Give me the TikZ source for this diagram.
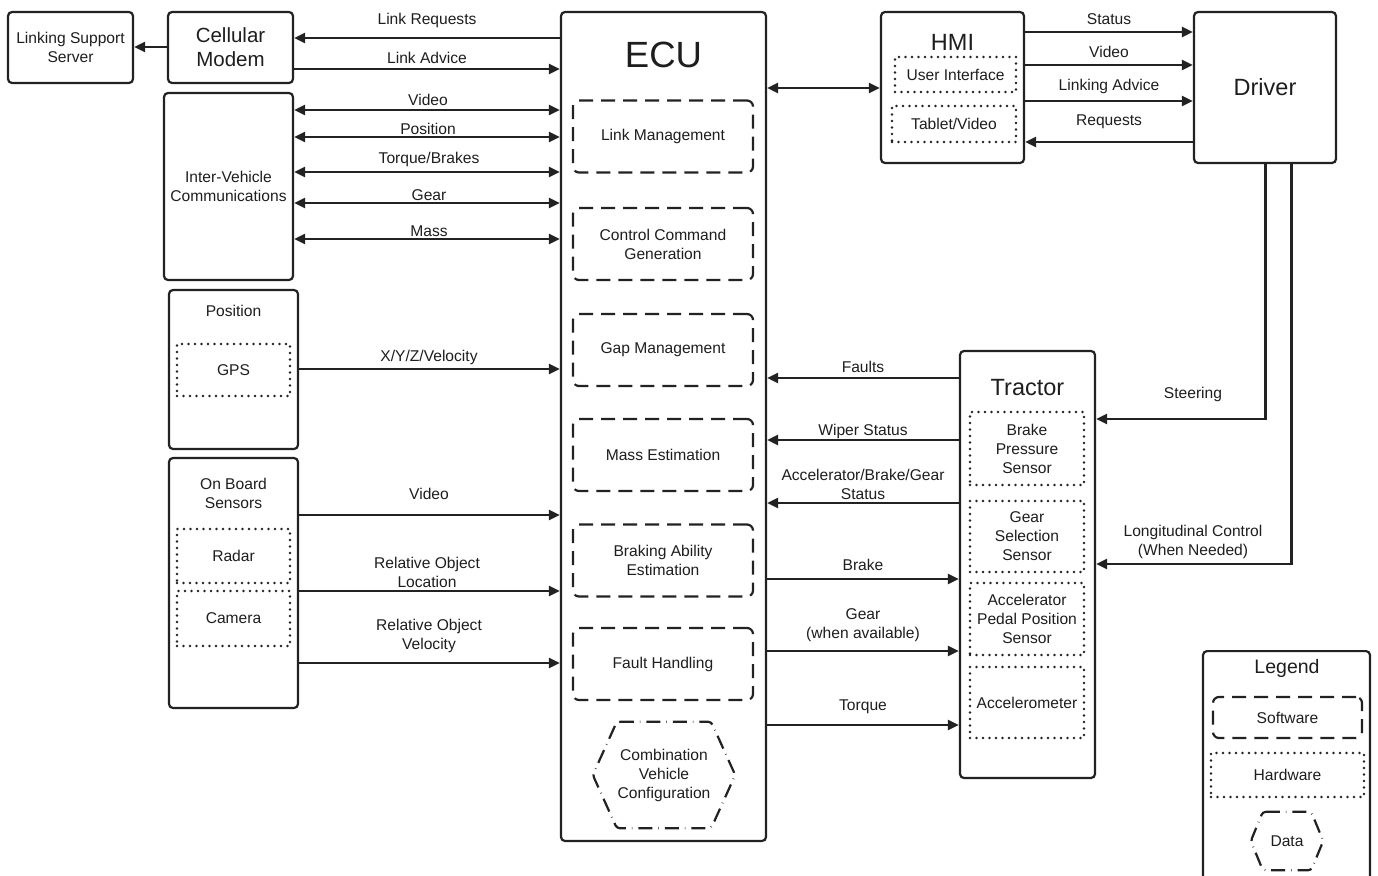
\documentclass[tikz,border=0pt]{standalone}
\usepackage{fontspec}
\setmainfont{Liberation Sans}
\usetikzlibrary{arrows.meta,calc}
\definecolor{ln}{HTML}{222222}
\definecolor{txt}{HTML}{1e1e1e}
\newcommand\fsz[2]{\fontsize{#1}{#2}\selectfont}
\begin{document}
\begin{tikzpicture}[x=1pt,y=-1pt,
  every node/.style={font=\fsz{15.6}{19}, text=txt, align=center, inner sep=0pt},
  box/.style={draw=ln, rounded corners=4pt, line width=2.2pt},
  sw/.style={draw=ln, rounded corners=6pt, line width=2.2pt, dash pattern=on 14pt off 8pt},
  hw/.style={draw=ln, line width=2.6pt, line cap=round, dash pattern=on 0pt off 6.5pt},
  dt/.style={draw=ln, line width=2.2pt, rounded corners=3pt, dash pattern=on 14pt off 6pt on 0.5pt off 6pt},
  arr/.style={draw=ln, line width=2.2pt, -{Triangle[length=11pt,width=10pt]}},
  darr/.style={draw=ln, line width=2.2pt, {Triangle[length=11pt,width=10pt]}-{Triangle[length=11pt,width=10pt]}},
  big/.style={font=\fsz{23.5}{26}},
]
\useasboundingbox (0,0) rectangle (1378,875);
\fill[white] (0,0) rectangle (1378,875);
\clip (0,0) rectangle (1378,875);

% ---- left column
\node[box, minimum width=125, minimum height=71] (server) at (70.5,47.5) {Linking Support\\Server};
\node[box, minimum width=125, minimum height=71, font=\fsz{20.5}{24}] (modem) at (230.5,47.5) {Cellular\\Modem};
\node[box, minimum width=129, minimum height=187] (ivc) at (228.5,186.5) {Inter-Vehicle\\Communications};
\node[box, minimum width=129, minimum height=159] (pos) at (233.5,369.5) {};
\node (post) at (233.5,311) {Position};
\node[hw, minimum width=113, minimum height=52] (gps) at (233.5,370) {GPS};
\node[box, minimum width=129, minimum height=250] (obs) at (233.5,583) {};
\node (obst) at (233.5,493) {On Board\\Sensors};
\node[hw, minimum width=113, minimum height=54] (radar) at (233.5,556) {Radar};
\node[hw, minimum width=113, minimum height=55] (camera) at (233.5,618.5) {Camera};

% ---- ECU
\node[box, minimum width=205, minimum height=829] (ecu) at (663.5,426.5) {};
\node[font=\fsz{36.5}{40}] (ecut) at (663.5,55) {ECU};
\node[sw, minimum width=180, minimum height=72] (lm) at (663,136.5) {Link Management};
\node[sw, minimum width=180, minimum height=72] (ccg) at (663,244) {Control Command\\Generation};
\node[sw, minimum width=180, minimum height=72] (gm) at (663,350) {Gap Management};
\node[sw, minimum width=180, minimum height=72] (me) at (663,455) {Mass Estimation};
\node[sw, minimum width=180, minimum height=72] (bae) at (663,560.5) {Braking Ability\\Estimation};
\node[sw, minimum width=180, minimum height=72] (fh) at (663,664) {Fault Handling};
\node[minimum width=142, minimum height=106] (cvc) at (664,775) {Combination\\Vehicle\\Configuration};
\draw[dt] ([xshift=24pt]cvc.north west) -- ([xshift=-24pt]cvc.north east) -- (cvc.east)
  -- ([xshift=-24pt]cvc.south east) -- ([xshift=24pt]cvc.south west) -- (cvc.west) -- cycle;

% ---- HMI / Driver
\node[box, minimum width=143, minimum height=151] (hmi) at (952.5,87.5) {};
\node[big] (hmit) at (952.5,42) {HMI};
\node[hw, minimum width=121, minimum height=35] (ui) at (955.5,74.5) {User Interface};
\node[hw, minimum width=124, minimum height=36] (tab) at (954,124) {Tablet/Video};
\node[box, big, minimum width=142, minimum height=151] (driver) at (1265,87.5) {Driver};

% ---- Tractor
\node[box, minimum width=135, minimum height=427] (tractor) at (1027.5,564.5) {};
\node[big] (tractort) at (1027.5,388) {Tractor};
\node[hw, minimum width=114, minimum height=73] (bps) at (1027,448.5) {Brake\\Pressure\\Sensor};
\node[hw, minimum width=114, minimum height=71] (gss) at (1027,536.5) {Gear\\Selection\\Sensor};
\node[hw, minimum width=114, minimum height=72] (apps) at (1027,619) {Accelerator\\Pedal Position\\Sensor};
\node[hw, minimum width=114, minimum height=71] (acc) at (1027,702.5) {Accelerometer};

% ---- Legend
\node[box, minimum width=167, minimum height=240, anchor=north] (legend) at (1286.5,650) {};
\node[font=\fsz{19.5}{22}] (legt) at (1287,668) {Legend};
\node[sw, minimum width=149, minimum height=41] (lsw) at (1287.5,717.5) {Software};
\node[hw, minimum width=153, minimum height=44] (lhw) at (1287.5,775) {Hardware};
\node[minimum width=72, minimum height=58] (ldt) at (1287,841) {Data};
\draw[dt] ([xshift=12pt]ldt.north west) -- ([xshift=-12pt]ldt.north east) -- (ldt.east)
  -- ([xshift=-12pt]ldt.south east) -- ([xshift=12pt]ldt.south west) -- (ldt.west) -- cycle;

% ---- connectors: left side
\draw[arr] (modem.west |- 0,47) -- (server.east |- 0,47);
\draw[arr] (ecu.west |- 0,38) -- (modem.east |- 0,38);
\draw[arr] (modem.east |- 0,69) -- (ecu.west |- 0,69);
\draw[darr] (ivc.east |- 0,110) -- (ecu.west |- 0,110);
\draw[darr] (ivc.east |- 0,137) -- (ecu.west |- 0,137);
\draw[darr] (ivc.east |- 0,172) -- (ecu.west |- 0,172);
\draw[darr] (ivc.east |- 0,203) -- (ecu.west |- 0,203);
\draw[darr] (ivc.east |- 0,239) -- (ecu.west |- 0,239);
\draw[arr] (pos.east |- 0,369) -- (ecu.west |- 0,369);
\draw[arr] (obs.east |- 0,515) -- (ecu.west |- 0,515);
\draw[arr] (obs.east |- 0,591) -- (ecu.west |- 0,591);
\draw[arr] (obs.east |- 0,663) -- (ecu.west |- 0,663);

\node (l1) at (427,20) {Link Requests};
\node (l2) at (427,58) {Link Advice};
\node (l3) at (428,100) {Video};
\node (l4) at (428,129) {Position};
\node (l5) at (429,159) {Torque/Brakes};
\node (l6) at (429,195) {Gear};
\node (l7) at (429,231) {Mass};
\node (l8) at (429,357) {X/Y/Z/Velocity};
\node (l9) at (429,494) {Video};
\node (l10) at (427,572) {Relative Object\\Location};
\node (l11) at (429,636) {Relative Object\\Velocity};

% ---- connectors: right side
\draw[darr] (ecu.east |- 0,88) -- (hmi.west |- 0,88);
\draw[arr] (hmi.east |- 0,32) -- (driver.west |- 0,32);
\draw[arr] (hmi.east |- 0,65) -- (driver.west |- 0,65);
\draw[arr] (hmi.east |- 0,101) -- (driver.west |- 0,101);
\draw[arr] (driver.west |- 0,142) -- (hmi.east |- 0,142);
\node (r1) at (1109,19) {Status};
\node (r2) at (1109,52) {Video};
\node (r3) at (1109,86) {Linking Advice};
\node (r4) at (1109,122) {Requests};

\draw[arr] (tractor.west |- 0,378) -- (ecu.east |- 0,378);
\draw[arr] (tractor.west |- 0,440) -- (ecu.east |- 0,440);
\draw[arr] (tractor.west |- 0,503) -- (ecu.east |- 0,503);
\draw[arr] (ecu.east |- 0,579) -- (tractor.west |- 0,579);
\draw[arr] (ecu.east |- 0,651) -- (tractor.west |- 0,651);
\draw[arr] (ecu.east |- 0,725) -- (tractor.west |- 0,725);
\node (t1) at (863,367) {Faults};
\node (t2) at (863,431) {Wiper Status};
\node (t3) at (863,484) {Accelerator/Brake/Gear\\Status};
\node (t4) at (863,565) {Brake};
\node (t5) at (863,625) {Gear\\(when available)};
\node (t6) at (863,707) {Torque};

\draw[arr] (driver.south -| 1265.5,0) |- (tractor.east |- 0,419);
\draw[arr] (driver.south -| 1291.5,0) |- (tractor.east |- 0,564);
\node (d1) at (1193,394) {Steering};
\node (d2) at (1193,542) {Longitudinal Control\\(When Needed)};
\end{tikzpicture}
\end{document}
